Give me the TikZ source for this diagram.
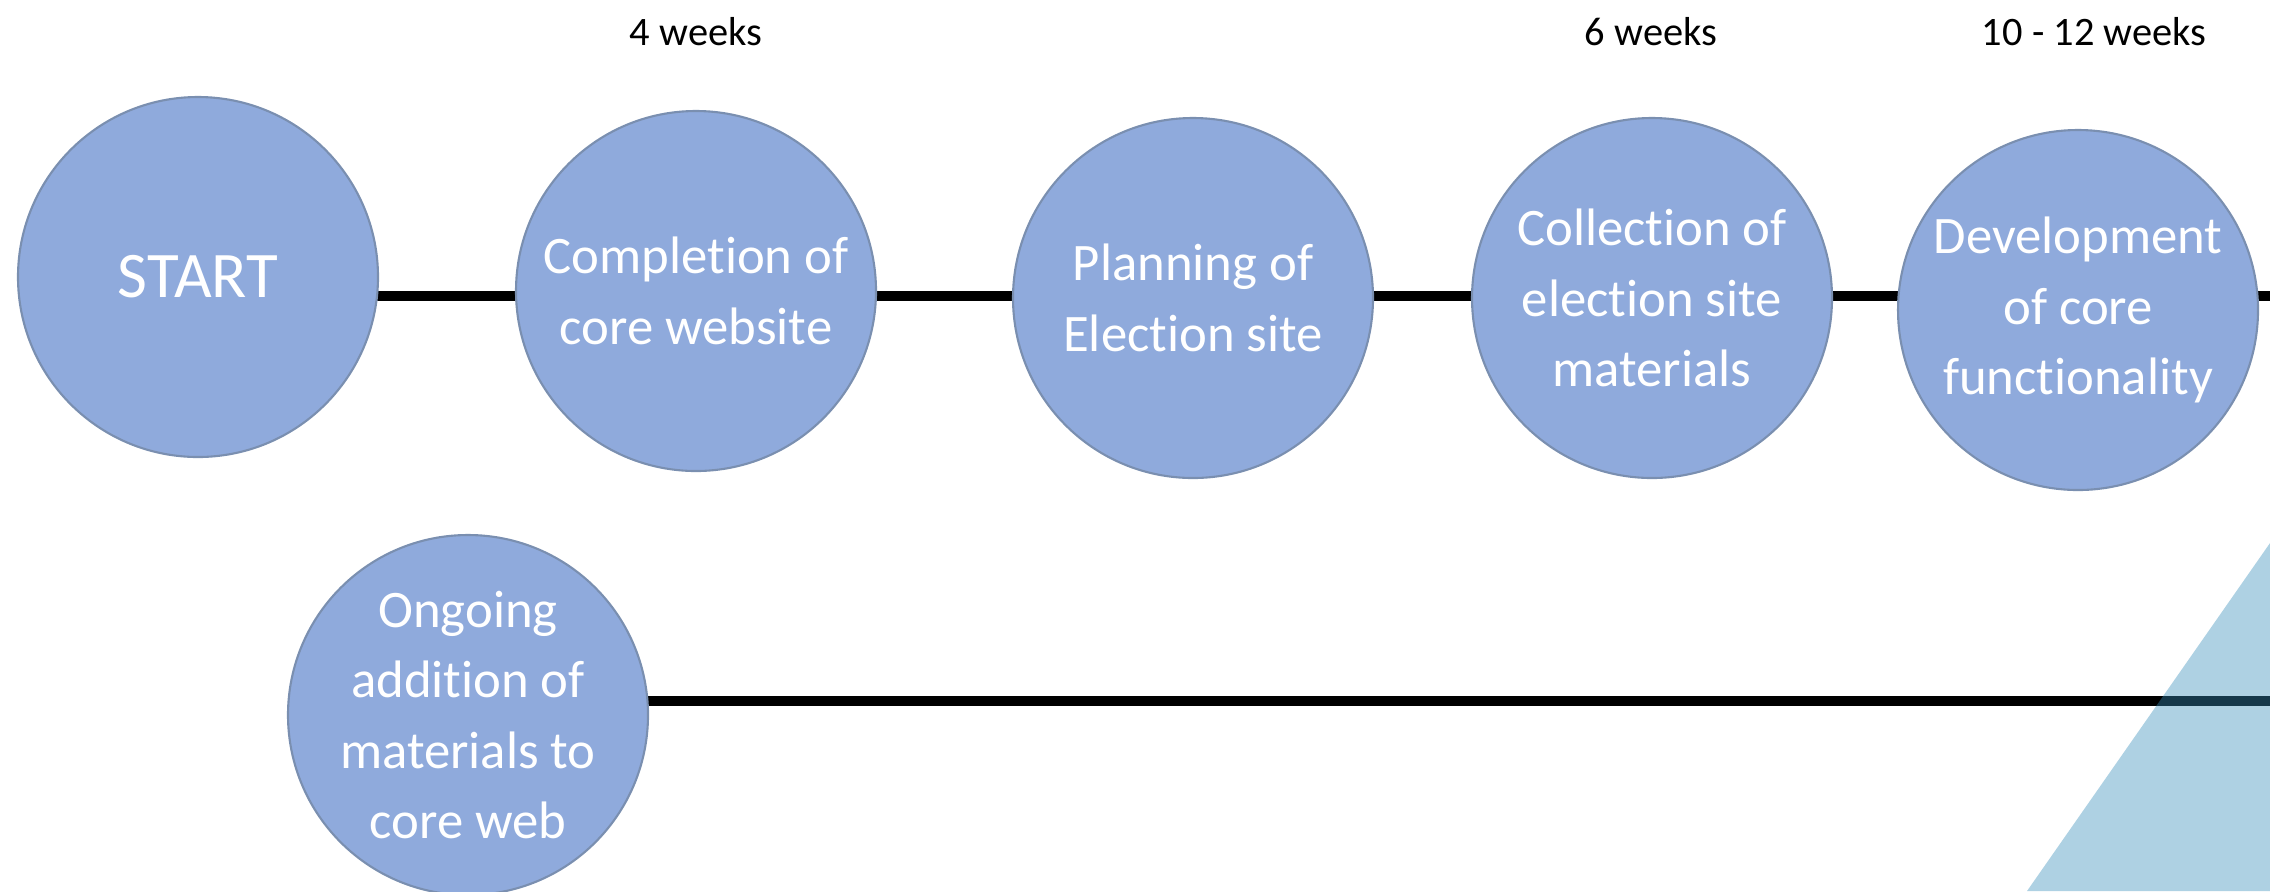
\documentclass[tikz,border=0pt]{standalone}
\usepackage{fontspec}
\setmainfont[Ligatures=NoCommon]{Carlito}
\usepackage{xcolor}
\usepackage{tikz}
\usetikzlibrary{backgrounds}

\definecolor{stagefill}{HTML}{8FAADC}
\definecolor{stageline}{HTML}{7A8FB0}
\definecolor{wedge}{RGB}{53,141,185}

\begin{document}
\begin{tikzpicture}[
    stage/.style={circle, draw=stageline, fill=stagefill, line width=0.6pt,
        minimum size=3.6cm, inner sep=0pt, text=white, align=center,
        font=\fontsize{15}{20}\selectfont},
    timeline/.style={line width=2.6pt, black},
    weeks/.style={font=\fontsize{11.5}{13}\selectfont}
]
    \useasboundingbox (0,0) rectangle (22.70,-8.91);
    % Stages
    \node[stage, font=\fontsize{18.5}{21}\selectfont] (start) at (1.98,-2.77) {START};
    \foreach \name/\pos/\txt in {
        core/{6.96,-2.91}/{Completion of\\core website},
        plan/{11.93,-2.98}/{Planning of\\Election site},
        collect/{16.52,-2.98}/{Collection of\\election site\\materials},
        develop/{20.78,-3.10}/{Development\\of core\\functionality}} {
        \node[stage] (\name) at (\pos) {\txt};
    }
    \node[stage] (ongoing) at (4.68,-7.15) {Ongoing\\addition of\\materials to\\core web};
    % Durations
    \node[weeks] (w4) at (6.96,-0.32) {4 weeks};
    \node[weeks] (w6) at (16.51,-0.32) {6 weeks};
    \node[weeks] (w12) at (20.94,-0.32) {10 - 12 weeks};
    % Timelines
    \coordinate (topend) at (22.70,-2.96);
    \coordinate (bottomend) at (22.70,-7.01);
    \begin{scope}[on background layer]
        \draw[timeline] (start |- topend) -- (topend);
        \draw[timeline] (ongoing |- bottomend) -- (bottomend);
    \end{scope}
    % Corner wedge
    \fill[wedge, fill opacity=0.4] (22.70,-5.43) -- (20.27,-8.91) -- (22.70,-8.91) -- cycle;
\end{tikzpicture}
\end{document}
